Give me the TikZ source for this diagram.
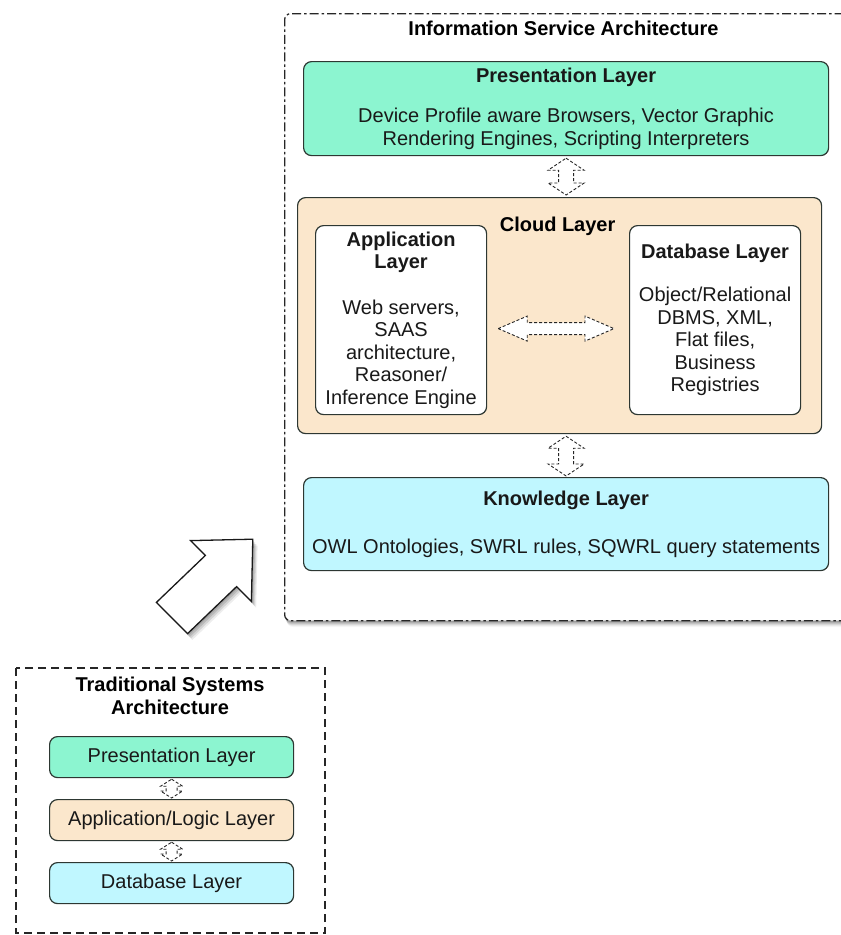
\documentclass[tikz,border=0pt]{standalone}
\usepackage{fontspec}
\setmainfont{Liberation Sans}
\usetikzlibrary{calc}
\definecolor{presgreen}{RGB}{140,245,208}
\definecolor{cloudpeach}{RGB}{251,231,204}
\definecolor{knowcyan}{RGB}{192,247,255}
\definecolor{bordercol}{RGB}{45,55,50}
\newcommand\vdblarrow[5]{%
  \draw[dblarrow] let \p1=(#1), \p2=(#2) in
    (\x1,\y1) -- (\x1+#4pt,\y1-#3pt) -- (\x1+#5pt,\y1-#3pt) -- (\x1+#5pt,\y2+#3pt)
    -- (\x1+#4pt,\y2+#3pt) -- (\x1,\y2) -- (\x1-#4pt,\y2+#3pt) -- (\x1-#5pt,\y2+#3pt)
    -- (\x1-#5pt,\y1-#3pt) -- (\x1-#4pt,\y1-#3pt) -- cycle;}
\newcommand\hdblarrow[5]{%
  \draw[dblarrow] let \p1=(#1), \p2=(#2) in
    (\x1,\y1) -- (\x1+#3pt,\y1+#4pt) -- (\x1+#3pt,\y1+#5pt) -- (\x2-#3pt,\y1+#5pt)
    -- (\x2-#3pt,\y1+#4pt) -- (\x2,\y1) -- (\x2-#3pt,\y1-#4pt) -- (\x2-#3pt,\y1-#5pt)
    -- (\x1+#3pt,\y1-#5pt) -- (\x1+#3pt,\y1-#4pt) -- cycle;}
\begin{document}
\begin{tikzpicture}[x=1pt,y=-1pt,
  font=\fontsize{20}{22.5}\selectfont,
  box/.style={draw=bordercol, line width=1.2pt, rounded corners=8pt, inner sep=0pt,
    align=center, anchor=north west, text=black!90},
  titletext/.style={font=\fontsize{20}{22.5}\selectfont\bfseries, align=center, inner sep=0pt},
  dblarrow/.style={draw=black!85, line width=0.9pt, dash pattern=on 3pt off 2pt, fill=white, line join=miter}
]
\clip (0,0) rectangle (841,935);
\fill[white] (0,0) rectangle (841,935);

% ---- Information Service Architecture outer frame with shadow
\foreach \i/\o in {1/0.10,2/0.10,3/0.10,4/0.09,5/0.07,6/0.05,7/0.03}
  \fill[black, opacity=\o, rounded corners=6pt] (284+0.4*\i,13+\i) rectangle (880,620+\i);
\node[draw=black!85, fill=white, line width=1.3pt, rounded corners=6pt,
      dash pattern=on 9pt off 3pt on 2.5pt off 3pt, anchor=north west,
      minimum width=600pt, minimum height=607pt, inner sep=0pt] (isa) at (284,13) {};
\node[titletext] (isatitle) at (563.5,28) {Information Service Architecture};

% ---- Presentation layer
\node[box, fill=presgreen, minimum width=525pt, minimum height=94pt] (pres) at (303,61)
  {\textbf{Presentation Layer}\\[17.5pt]
   Device Profile aware Browsers, Vector Graphic\\
   Rendering Engines, Scripting Interpreters};

% ---- Cloud layer
\node[box, fill=cloudpeach, minimum width=524pt, minimum height=236pt] (cloud) at (297,197) {};
\node[titletext] (cloudtitle) at ($(cloud.north)+(-2,29)$) {Cloud Layer};

\node[box, fill=white, minimum width=171pt, minimum height=189pt] (app) at (315,225)
  {\textbf{Application}\\\textbf{Layer}\\[23pt]
   Web servers,\\SAAS\\architecture,\\Reasoner/\\Inference Engine};
\node[box, fill=white, minimum width=171pt, minimum height=189pt] (db) at (629,225)
  {\textbf{Database Layer}\\[20.5pt]
   Object/Relational\\DBMS, XML,\\Flat files,\\Business\\Registries};

% ---- Knowledge layer
\node[box, fill=knowcyan, minimum width=525pt, minimum height=93pt] (know) at (303,477)
  {\textbf{Knowledge Layer}\\[25.5pt]
   OWL Ontologies, SWRL rules, SQWRL query statements};

% ---- connectors (dashed double block arrows)
\vdblarrow{$(pres.south)+(0,2)$}{$(pres.south|-cloud.north)+(0,-2)$}{12}{18}{7.5}
\vdblarrow{$(know.north|-cloud.south)+(0,2)$}{$(know.north)+(0,-1)$}{12}{18}{7.5}
\hdblarrow{$(app.east)+(11,8.5)$}{$(db.west)+(-15,8.5)$}{29}{12.5}{6}

% ---- big white arrow with shadow
\foreach \i/\o in {2/0.12,4/0.12,6/0.10,8/0.07}
  \fill[black, opacity=\o, shift={(0.6*\i,0.8*\i)}]
    (156.4,602.4) -- (187.6,633.6) -- (236.6,586.6) -- (251.4,601.4)
    -- (252.8,539.2) -- (190.6,540.6) -- (205.4,555.4) -- cycle;
\draw[fill=white, draw=black!90, line width=1.3pt, line join=miter]
    (156.4,602.4) -- (187.6,633.6) -- (236.6,586.6) -- (251.4,601.4)
    -- (252.8,539.2) -- (190.6,540.6) -- (205.4,555.4) -- cycle;

% ---- Traditional Systems Architecture
\draw[black!85, line width=1.3pt, dash pattern=on 8pt off 5pt] (16,668) rectangle (325,933);
\node[titletext] (tradtitle) at (170,696) {Traditional Systems\\Architecture};
\node[box, fill=presgreen, minimum width=244pt, minimum height=41pt] (tp) at (49,736) {Presentation Layer};
\node[box, fill=cloudpeach, minimum width=244pt, minimum height=41pt] (ta) at (49,799) {Application/Logic Layer};
\node[box, fill=knowcyan, minimum width=244pt, minimum height=41pt] (td) at (49,862) {Database Layer};
\vdblarrow{$(tp.south)+(0,1)$}{$(ta.north)+(0,-1)$}{7}{11}{5.5}
\vdblarrow{$(ta.south)+(0,1)$}{$(td.north)+(0,-1)$}{7}{11}{5.5}
\end{tikzpicture}
\end{document}
